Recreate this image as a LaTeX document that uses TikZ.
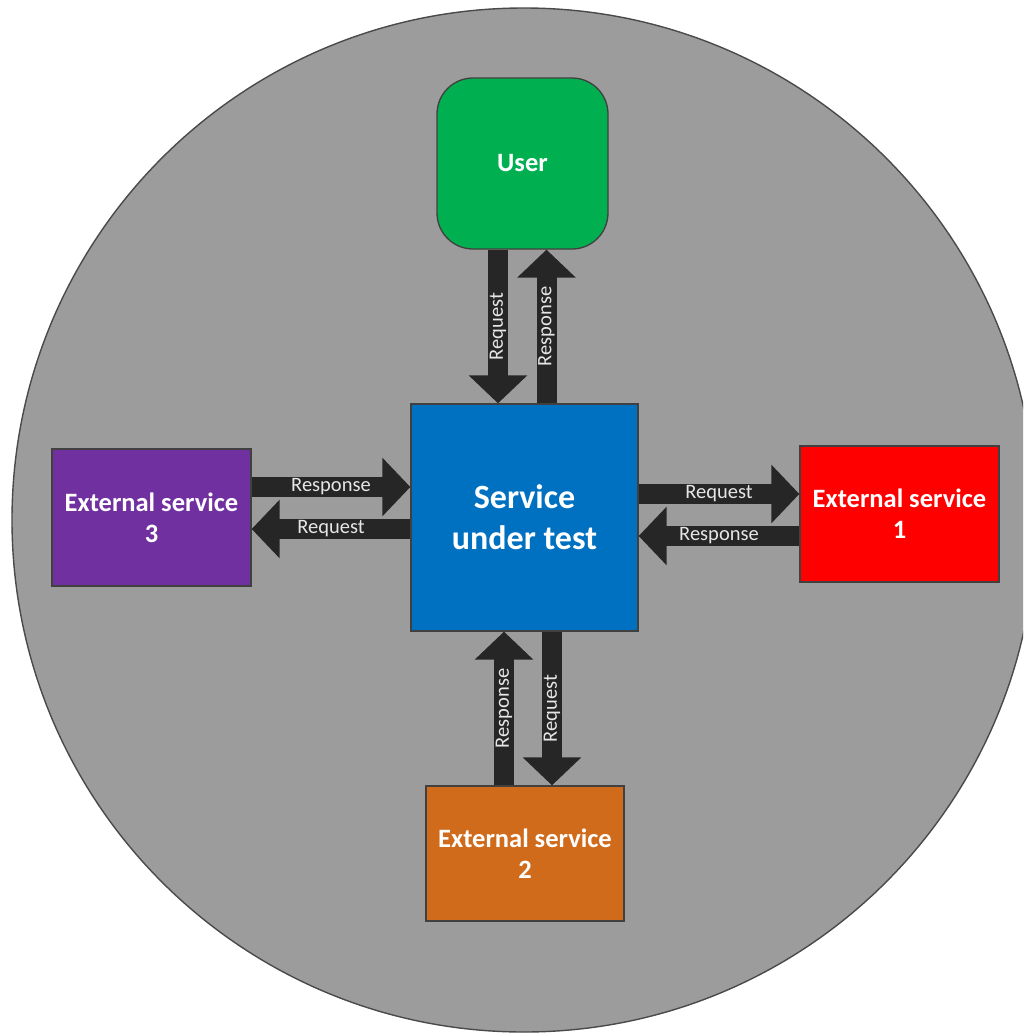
\documentclass[tikz,border=0pt]{standalone}
\usepackage{fontspec}
\setmainfont{Carlito}
\usetikzlibrary{arrows.meta}
\definecolor{bggray}{HTML}{9C9C9C}
\definecolor{rimgray}{HTML}{4A4A4A}
\definecolor{boxline}{HTML}{404040}
\definecolor{usergreen}{HTML}{00B050}
\definecolor{sutblue}{HTML}{0070C0}
\definecolor{espurple}{HTML}{7030A0}
\definecolor{esred}{HTML}{FF0000}
\definecolor{esorange}{HTML}{D16B1C}
\definecolor{arrowdark}{HTML}{262626}
\definecolor{labelgray}{HTML}{E6E6E6}
\begin{document}
\begin{tikzpicture}[x=1pt,y=-1pt,
  box/.style={draw=boxline,line width=1.3pt,text=white,align=center,inner sep=0pt,
    font=\fontsize{26.5}{31}\selectfont\bfseries},
  blockarrow/.style={draw=arrowdark,line width=20pt,line cap=butt,
    -{Triangle[length=28pt,width=57pt]}},
  alabel/.style={text=labelgray,font=\fontsize{20.5}{22}\selectfont,inner sep=0pt}]
\useasboundingbox (0,0) rectangle (1023,1033);
\clip (0,0) rectangle (1023,1033);
\fill[white] (0,0) rectangle (1023,1033);
\draw[fill=bggray,draw=rimgray,line width=1.4pt] (524,520) circle[radius=512];

\node[box,fill=usergreen,rounded corners=36pt,minimum width=171pt,minimum height=171pt] (user) at (522.5,163.5) {User};
\node[box,fill=sutblue,minimum width=227pt,minimum height=227pt,
  font=\fontsize{34}{41}\selectfont\bfseries] (sut) at (524.5,517.5) {Service\\under test};
\node[box,fill=espurple,minimum width=199pt,minimum height=137pt] (es3) at (151.5,517.5) {External service\\3};
\node[box,fill=esred,minimum width=199pt,minimum height=136pt] (es1) at (899.5,514) {External service\\1};
\node[box,fill=esorange,minimum width=198pt,minimum height=135pt] (es2) at (525,853.5) {External service\\2};

% User <-> SUT
\draw[blockarrow] ([xshift=-24.5pt]user.south) -- ([xshift=-26.5pt]sut.north)
  node[alabel,midway,rotate=90] {Request};
\draw[blockarrow] ([xshift=22pt]sut.north) -- ([xshift=24pt]user.south)
  node[alabel,midway,rotate=90] {Response};

% ES3 <-> SUT
\draw[blockarrow] ([yshift=30.5pt]es3.east) -- ([yshift=30.5pt]sut.west)
  node[alabel,midway] {Response};
\draw[blockarrow] ([yshift=-11.5pt]sut.west) -- ([yshift=-11.5pt]es3.east)
  node[alabel,midway] {Request};

% SUT <-> ES1
\draw[blockarrow] ([yshift=23.5pt]sut.east) -- ([yshift=20pt]es1.west)
  node[alabel,midway] {Request};
\draw[blockarrow] ([yshift=-22pt]es1.west) -- ([yshift=-18.5pt]sut.east)
  node[alabel,midway] {Response};

% ES2 <-> SUT
\draw[blockarrow] ([xshift=-21pt]es2.north) -- ([xshift=-20.5pt]sut.south)
  node[alabel,midway,rotate=90] {Response};
\draw[blockarrow] ([xshift=27.5pt]sut.south) -- ([xshift=27pt]es2.north)
  node[alabel,midway,rotate=90] {Request};
\end{tikzpicture}
\end{document}
